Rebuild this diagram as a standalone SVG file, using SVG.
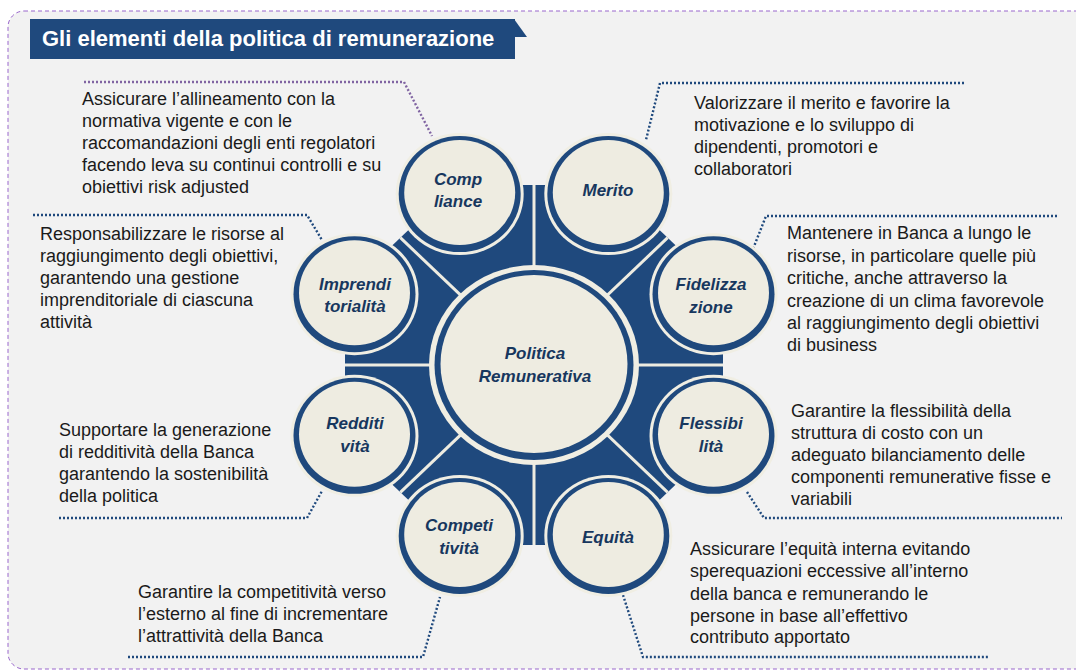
<svg xmlns="http://www.w3.org/2000/svg" width="1076" height="672" viewBox="0 0 1076 672">
  <style>
    .body { font-family: "Liberation Sans", Arial, sans-serif; font-size: 18px; fill: #1a1a1a; }
    .lbl { font-family: "Liberation Sans", Arial, sans-serif; font-size: 17px; font-weight: bold; font-style: italic; fill: #17375E; text-anchor: middle; }
    .halo { fill: #F0EEE3; }
    .ring { fill: #1F497D; }
    .core { fill: #EEECE1; }
    .dots { fill: none; stroke: #1F497D; stroke-width: 2.4; stroke-dasharray: 2 2; }
    .dots-violet { fill: none; stroke: #8064A2; stroke-width: 2.4; stroke-dasharray: 2 2; }
    .divider { stroke: #EEECE1; stroke-width: 3; }
  </style>

  <!-- page background and dashed frame -->
  <rect x="0" y="0" width="1076" height="672" fill="#FFFFFF"/>
  <rect x="8" y="11" width="1110" height="658" rx="16" ry="16" fill="#F2F2F2" stroke="#9966CC" stroke-width="1" stroke-dasharray="4 3"/>

  <!-- title banner -->
  <g id="title">
    <rect x="30" y="19" width="485" height="40" fill="#1F497D"/>
    <polygon points="514,19 527,37 514,37" fill="#1F497D"/>
    <text x="42" y="46" font-family="'Liberation Sans', Arial, sans-serif" font-size="22" font-weight="bold" fill="#FFFFFF">Gli elementi della politica di remunerazione</text>
  </g>

  <!-- connectors from the circles to their descriptions -->
  <g id="connectors">
    <path class="dots-violet" d="M84,82 H404 L432,136"/>
    <path class="dots" d="M964,83 H660 L646,140"/>
    <path class="dots" d="M1057,216 H766 L753,249"/>
    <path class="dots" d="M33,215 H307 L322,240"/>
    <path class="dots" d="M59,518 H307 L322,491"/>
    <path class="dots" d="M128,657 H423 L440,597"/>
    <path class="dots" d="M623,595 L643,657 H988"/>
    <path class="dots" d="M747,492 L764,518 H1062"/>
  </g>

  <!-- octagonal hub split into eight wedges -->
  <g id="hub-frame">
    <polygon fill="#1F497D" points="723,439.56 612.29,545 455.71,545 345,439.56 345,290.44 455.71,185 612.29,185 723,290.44"/>
    <line class="divider" x1="534" y1="365" x2="723" y2="365"/>
    <line class="divider" x1="534" y1="365" x2="667.67" y2="492.3"/>
    <line class="divider" x1="534" y1="365" x2="534" y2="545"/>
    <line class="divider" x1="534" y1="365" x2="400.33" y2="492.3"/>
    <line class="divider" x1="534" y1="365" x2="345" y2="365"/>
    <line class="divider" x1="534" y1="365" x2="400.33" y2="237.7"/>
    <line class="divider" x1="534" y1="365" x2="534" y2="185"/>
    <line class="divider" x1="534" y1="365" x2="667.67" y2="237.7"/>
  </g>

  <!-- central node -->
  <g id="node-politica">
    <ellipse class="halo" cx="534" cy="365" rx="105" ry="100"/>
    <ellipse class="ring" cx="534" cy="365" rx="99.5" ry="95"/>
    <ellipse class="core" cx="534" cy="364" rx="93.5" ry="89"/>
    <text class="lbl" font-size="17.5" x="535" y="359">Politica</text>
    <text class="lbl" font-size="17.5" x="535" y="382">Remunerativa</text>
  </g>

  <!-- satellite nodes -->
  <g id="node-compliance">
    <ellipse class="halo" cx="459.7" cy="194.1" rx="64" ry="61"/>
    <ellipse class="ring" cx="459.7" cy="194.1" rx="61" ry="58"/>
    <ellipse class="core" cx="459.7" cy="192.6" rx="55.5" ry="52.5"/>
    <text class="lbl" x="458" y="185">Comp</text>
    <text class="lbl" x="458" y="207">liance</text>
  </g>
  <g id="node-merito">
    <ellipse class="halo" cx="608.3" cy="194.1" rx="64" ry="61"/>
    <ellipse class="ring" cx="608.3" cy="194.1" rx="61" ry="58"/>
    <ellipse class="core" cx="608.3" cy="192.6" rx="55.5" ry="52.5"/>
    <text class="lbl" x="608" y="196">Merito</text>
  </g>
  <g id="node-fidelizzazione">
    <ellipse class="halo" cx="713.5" cy="294.2" rx="64" ry="61"/>
    <ellipse class="ring" cx="713.5" cy="294.2" rx="61" ry="58"/>
    <ellipse class="core" cx="713.5" cy="292.7" rx="55.5" ry="52.5"/>
    <text class="lbl" x="711" y="290">Fidelizza</text>
    <text class="lbl" x="711" y="313">zione</text>
  </g>
  <g id="node-flessibilita">
    <ellipse class="halo" cx="713.5" cy="435.8" rx="64" ry="61"/>
    <ellipse class="ring" cx="713.5" cy="435.8" rx="61" ry="58"/>
    <ellipse class="core" cx="713.5" cy="434.3" rx="55.5" ry="52.5"/>
    <text class="lbl" x="711" y="429">Flessibi</text>
    <text class="lbl" x="711" y="452">lità</text>
  </g>
  <g id="node-equita">
    <ellipse class="halo" cx="608.3" cy="535.9" rx="64" ry="61"/>
    <ellipse class="ring" cx="608.3" cy="535.9" rx="61" ry="58"/>
    <ellipse class="core" cx="608.3" cy="534.4" rx="55.5" ry="52.5"/>
    <text class="lbl" x="608" y="543">Equità</text>
  </g>
  <g id="node-competitivita">
    <ellipse class="halo" cx="459.7" cy="535.9" rx="64" ry="61"/>
    <ellipse class="ring" cx="459.7" cy="535.9" rx="61" ry="58"/>
    <ellipse class="core" cx="459.7" cy="534.4" rx="55.5" ry="52.5"/>
    <text class="lbl" x="459" y="531">Competi</text>
    <text class="lbl" x="459" y="554">tività</text>
  </g>
  <g id="node-redditivita">
    <ellipse class="halo" cx="354.5" cy="435.8" rx="64" ry="61"/>
    <ellipse class="ring" cx="354.5" cy="435.8" rx="61" ry="58"/>
    <ellipse class="core" cx="354.5" cy="434.3" rx="55.5" ry="52.5"/>
    <text class="lbl" x="355" y="429">Redditi</text>
    <text class="lbl" x="355" y="452">vità</text>
  </g>
  <g id="node-imprenditorialita">
    <ellipse class="halo" cx="354.5" cy="294.2" rx="64" ry="61"/>
    <ellipse class="ring" cx="354.5" cy="294.2" rx="61" ry="58"/>
    <ellipse class="core" cx="354.5" cy="292.7" rx="55.5" ry="52.5"/>
    <text class="lbl" x="355" y="290">Imprendi</text>
    <text class="lbl" x="355" y="312">torialità</text>
  </g>

  <!-- descriptions -->
  <g id="text-compliance" class="body">
    <text x="82" y="105">Assicurare l’allineamento con la</text>
    <text x="82" y="127">normativa vigente e con le</text>
    <text x="82" y="149">raccomandazioni degli enti regolatori</text>
    <text x="82" y="171">facendo leva su continui controlli e su</text>
    <text x="82" y="193">obiettivi risk adjusted</text>
  </g>
  <g id="text-merito" class="body">
    <text x="694" y="109">Valorizzare il merito e favorire la</text>
    <text x="694" y="131">motivazione e lo sviluppo di</text>
    <text x="694" y="153">dipendenti, promotori e</text>
    <text x="694" y="175">collaboratori</text>
  </g>
  <g id="text-fidelizzazione" class="body">
    <text x="787" y="239">Mantenere in Banca a lungo le</text>
    <text x="787" y="262">risorse, in particolare quelle più</text>
    <text x="787" y="284">critiche, anche attraverso la</text>
    <text x="787" y="307">creazione di un clima favorevole</text>
    <text x="787" y="329">al raggiungimento degli obiettivi</text>
    <text x="787" y="351">di business</text>
  </g>
  <g id="text-imprenditorialita" class="body">
    <text x="40" y="240">Responsabilizzare le risorse al</text>
    <text x="40" y="262">raggiungimento degli obiettivi,</text>
    <text x="40" y="284">garantendo una gestione</text>
    <text x="40" y="306">imprenditoriale di ciascuna</text>
    <text x="40" y="328">attività</text>
  </g>
  <g id="text-flessibilita" class="body">
    <text x="791" y="417">Garantire la flessibilità della</text>
    <text x="791" y="439">struttura di costo con un</text>
    <text x="791" y="461">adeguato bilanciamento delle</text>
    <text x="791" y="483">componenti remunerative fisse e</text>
    <text x="791" y="505">variabili</text>
  </g>
  <g id="text-redditivita" class="body">
    <text x="59" y="436">Supportare la generazione</text>
    <text x="59" y="458">di redditività della Banca</text>
    <text x="59" y="480">garantendo la sostenibilità</text>
    <text x="59" y="502">della politica</text>
  </g>
  <g id="text-equita" class="body">
    <text x="690" y="555">Assicurare l’equità interna evitando</text>
    <text x="690" y="577">sperequazioni eccessive all’interno</text>
    <text x="690" y="600">della banca e remunerando le</text>
    <text x="690" y="622">persone in base all’effettivo</text>
    <text x="690" y="643">contributo apportato</text>
  </g>
  <g id="text-competitivita" class="body">
    <text x="138" y="598">Garantire la competitività verso</text>
    <text x="138" y="620">l’esterno al fine di incrementare</text>
    <text x="138" y="642">l’attrattività della Banca</text>
  </g>
</svg>
